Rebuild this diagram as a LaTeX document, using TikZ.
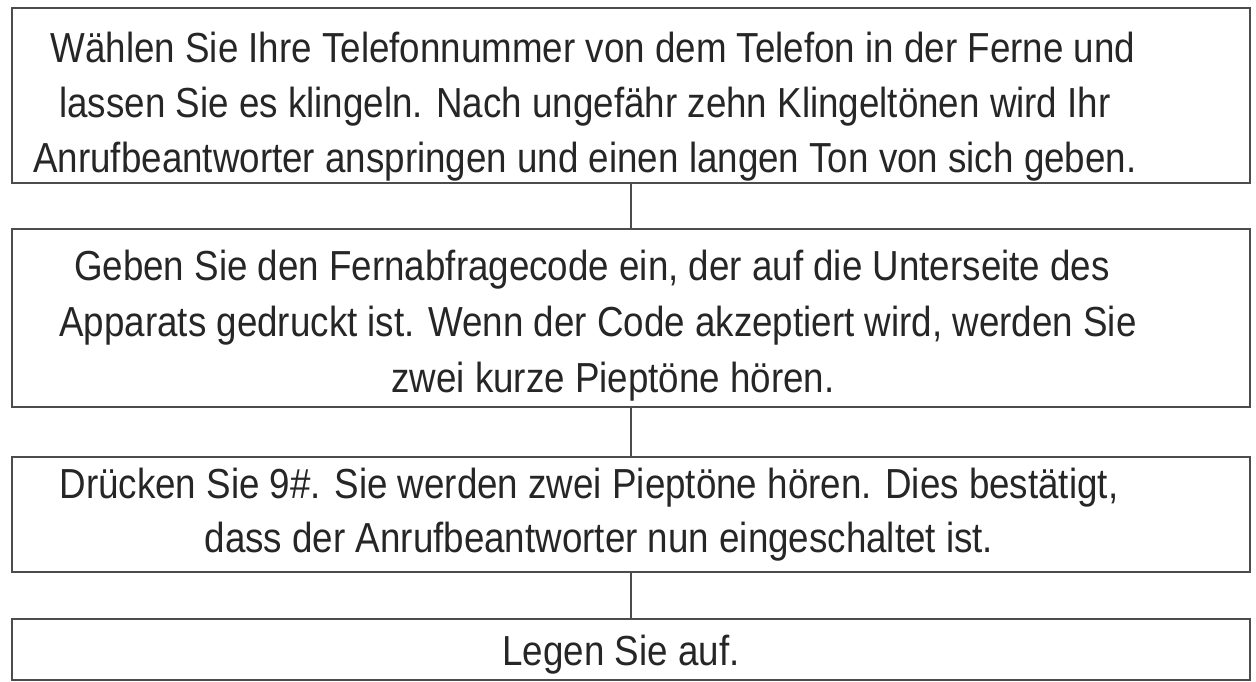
\documentclass[tikz,border=0pt]{standalone}
\usepackage{fontspec}
\setmainfont[FakeStretch=0.875]{Liberation Sans}
\begin{document}
\begin{tikzpicture}[x=1pt,y=-1pt,
  stepbox/.style={draw=black!70, line width=2pt, rectangle, minimum width=1238pt, inner sep=0pt},
  txt/.style={anchor=base, inner sep=0pt, font=\fontsize{42}{55}\selectfont, text=black!85},
  conn/.style={draw=black!70, line width=1.5pt}]
\useasboundingbox (0,0) rectangle (1256,681);
\node[stepbox, minimum height=175pt] (b1) at (631,95.5) {};
\node[stepbox, minimum height=178pt] (b2) at (631,318) {};
\node[stepbox, minimum height=115pt] (b3) at (631,514.5) {};
\node[stepbox, minimum height=61pt] (b4) at (631,649) {};
\node[txt] (t1a) at (593,62) {Wählen Sie Ihre Telefonnummer von dem Telefon in der Ferne und};
\node[txt] (t1b) at (585,117) {lassen Sie es klingeln. Nach ungefähr zehn Klingeltönen wird Ihr};
\node[txt] (t1c) at (585,172) {Anrufbeantworter anspringen und einen langen Ton von sich geben.};
\node[txt] (t2a) at (592,280) {Geben Sie den Fernabfragecode ein, der auf die Unterseite des};
\node[txt] (t2b) at (598,336) {Apparats gedruckt ist. Wenn der Code akzeptiert wird, werden Sie};
\node[txt] (t2c) at (613,392) {zwei kurze Pieptöne hören.};
\node[txt] (t3a) at (589,498) {Drücken Sie 9\#. Sie werden zwei Pieptöne hören. Dies bestätigt,};
\node[txt] (t3b) at (599,552) {dass der Anrufbeantworter nun eingeschaltet ist.};
\node[txt] (t4a) at (621,665) {Legen Sie auf.};
\draw[conn] (b1.south) -- (b2.north);
\draw[conn] (b2.south) -- (b3.north);
\draw[conn] (b3.south) -- (b4.north);
\end{tikzpicture}
\end{document}
